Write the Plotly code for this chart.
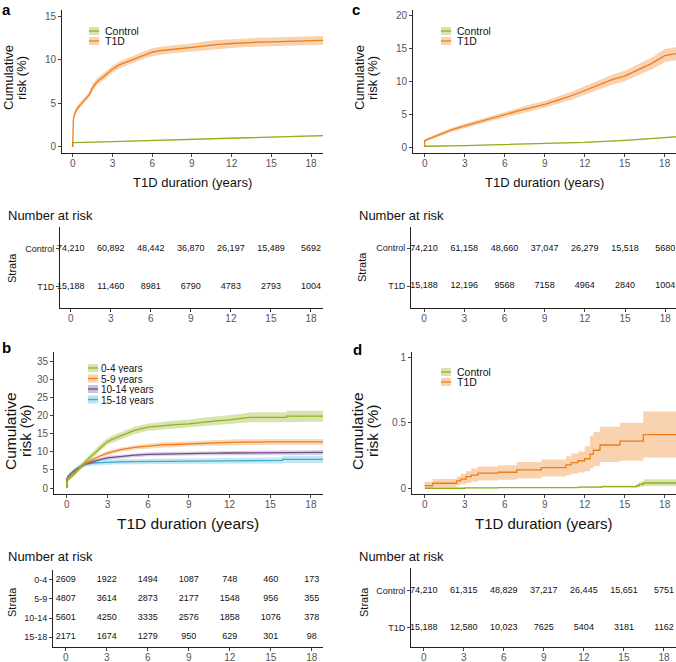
import plotly.graph_objects as go

# ---------------- DATA ----------------
# Panel a
a_t1d_t = [0, 0, 0.05, 0.15, 0.3, 0.5, 0.75, 1.0, 1.25, 1.5, 1.85, 2.2, 2.6, 3.0, 3.5, 4.0, 4.5, 5.0, 5.5, 6.0,
           6.5, 7.0, 8.0, 9.0, 10.0, 11.0, 12.0, 13.0, 14.0, 15.0, 16.0, 17.0, 18.0, 18.9]
a_t1d = [0, 2.5, 3.2, 3.8, 4.3, 4.7, 5.1, 5.5, 6.0, 6.8, 7.5, 7.9, 8.4, 8.9, 9.4, 9.7, 10.0, 10.3, 10.6, 10.85,
         11.0, 11.1, 11.25, 11.4, 11.6, 11.75, 11.85, 11.95, 12.0, 12.05, 12.1, 12.15, 12.2, 12.2]
a_t1d_lo = [0, 2.2, 2.9, 3.5, 4.0, 4.4, 4.8, 5.2, 5.7, 6.4, 7.1, 7.5, 8.0, 8.5, 9.0, 9.3, 9.6, 9.9, 10.2, 10.4,
            10.55, 10.65, 10.8, 10.95, 11.1, 11.25, 11.35, 11.45, 11.5, 11.55, 11.6, 11.65, 11.7, 11.7]
a_t1d_hi = [0, 2.8, 3.5, 4.1, 4.6, 5.0, 5.4, 5.8, 6.3, 7.2, 7.9, 8.3, 8.8, 9.3, 9.8, 10.1, 10.4, 10.7, 11.0, 11.3,
            11.45, 11.55, 11.7, 11.85, 12.1, 12.25, 12.35, 12.45, 12.5, 12.55, 12.6, 12.65, 12.7, 12.7]
a_ctrl_t = [0, 0, 3, 6, 9, 12, 15, 18, 18.9]
a_ctrl = [0, 0.5, 0.62, 0.75, 0.88, 1.0, 1.12, 1.25, 1.3]
a_ctrl_lo = [0, 0.46, 0.58, 0.71, 0.84, 0.95, 1.06, 1.18, 1.23]
a_ctrl_hi = [0, 0.54, 0.66, 0.79, 0.92, 1.05, 1.18, 1.32, 1.37]

# Panel c
c_t1d_t = [0, 0, 0.5, 1, 2, 3, 4, 5, 6, 7, 8, 9, 10, 11, 12, 13, 14, 15, 16, 17, 18, 18.85]
c_t1d = [0, 1.0, 1.4, 1.8, 2.6, 3.2, 3.8, 4.4, 4.9, 5.5, 6.0, 6.5, 7.15, 7.8, 8.6, 9.45, 10.2, 10.8, 11.7, 12.7, 13.9, 14.2]
c_t1d_lo = [0, 0.8, 1.15, 1.5, 2.3, 2.85, 3.45, 4.0, 4.5, 5.05, 5.5, 6.0, 6.6, 7.2, 7.95, 8.75, 9.45, 10.0, 10.85, 11.8, 12.9, 13.2]
c_t1d_hi = [0, 1.2, 1.65, 2.1, 2.9, 3.55, 4.15, 4.8, 5.3, 5.95, 6.5, 7.0, 7.7, 8.4, 9.25, 10.15, 10.95, 11.6, 12.55, 13.6, 14.9, 15.2]
c_ctrl_t = [0, 0, 3, 6, 9, 12, 15, 18, 18.85]
c_ctrl = [0, 0.12, 0.22, 0.35, 0.5, 0.7, 1.0, 1.45, 1.55]
c_ctrl_lo = [0, 0.09, 0.18, 0.3, 0.44, 0.63, 0.92, 1.35, 1.44]
c_ctrl_hi = [0, 0.15, 0.26, 0.4, 0.56, 0.77, 1.08, 1.55, 1.66]

# Panel b (age at onset groups)
b_t = [0, 0, 0.1, 0.3, 0.6, 1.0, 1.3, 1.7, 2.0, 2.5, 3.0, 3.5, 4.0, 5.0, 6.0, 7.0, 8.0, 9.0, 10.0, 11.0,
       12.0, 13.0, 13.5, 15.0, 15.9, 15.9, 16.2, 16.2, 17.0, 18.9]
b_g04 = [0, 1.5, 2.3, 3.0, 3.9, 5.6, 7.0, 8.4, 9.4, 11.3, 12.8, 13.7, 14.4, 15.9, 16.8, 17.2, 17.5, 17.7, 18.2, 18.5,
         18.8, 19.2, 19.5, 19.5, 19.5, 19.5, 19.5, 19.8, 19.8, 19.8]
b_g04_lo = [0, 1.1, 1.8, 2.5, 3.3, 4.9, 6.3, 7.6, 8.5, 10.4, 11.9, 12.7, 13.4, 14.9, 15.8, 16.1, 16.4, 16.6, 17.0, 17.3,
            17.6, 17.9, 18.1, 18.1, 18.1, 18.1, 18.1, 18.3, 18.3, 18.3]
b_g04_hi = [0, 1.9, 2.8, 3.5, 4.5, 6.3, 7.7, 9.2, 10.3, 12.2, 13.7, 14.7, 15.4, 16.9, 17.8, 18.3, 18.6, 18.8, 19.4, 19.7,
            20.0, 20.5, 20.9, 20.9, 20.9, 20.9, 20.9, 21.3, 21.3, 21.3]
b_g59 = [0, 2.0, 2.8, 3.6, 4.5, 5.7, 6.6, 7.4, 8.0, 8.9, 9.6, 10.1, 10.6, 11.2, 11.6, 11.9, 12.0, 12.2, 12.35, 12.5,
         12.6, 12.65, 12.7, 12.7, 12.7, 12.7, 12.7, 12.7, 12.7, 12.7]
b_g59_lo = [0, 1.7, 2.5, 3.2, 4.1, 5.2, 6.1, 6.9, 7.5, 8.4, 9.0, 9.5, 10.0, 10.6, 10.9, 11.2, 11.3, 11.5, 11.6, 11.7,
            11.8, 11.85, 11.9, 11.9, 11.9, 11.9, 11.9, 11.9, 11.9, 11.9]
b_g59_hi = [0, 2.3, 3.1, 4.0, 4.9, 6.2, 7.1, 7.9, 8.5, 9.4, 10.2, 10.7, 11.2, 11.8, 12.3, 12.6, 12.7, 12.9, 13.1, 13.3,
            13.4, 13.45, 13.5, 13.5, 13.5, 13.5, 13.5, 13.5, 13.5, 13.5]
b_g1014 = [0, 2.3, 3.1, 3.9, 4.8, 5.8, 6.5, 7.0, 7.4, 7.9, 8.3, 8.5, 8.75, 9.05, 9.3, 9.4, 9.45, 9.5, 9.55, 9.6,
           9.65, 9.7, 9.7, 9.8, 9.8, 9.8, 9.8, 9.8, 9.8, 9.8]
b_g1014_lo = [0, 2.0, 2.8, 3.6, 4.4, 5.4, 6.1, 6.6, 7.0, 7.5, 7.8, 8.0, 8.25, 8.5, 8.75, 8.85, 8.9, 8.95, 9.0, 9.0,
              9.05, 9.1, 9.1, 9.15, 9.15, 9.15, 9.15, 9.1, 9.1, 9.1]
b_g1014_hi = [0, 2.6, 3.4, 4.2, 5.2, 6.2, 6.9, 7.4, 7.8, 8.3, 8.8, 9.0, 9.25, 9.6, 9.85, 9.95, 10.0, 10.05, 10.1, 10.2,
              10.25, 10.3, 10.3, 10.45, 10.45, 10.45, 10.45, 10.5, 10.5, 10.5]
b_g1518 = [0, 2.5, 3.3, 4.1, 5.0, 6.0, 6.5, 6.8, 6.9, 7.0, 7.1, 7.15, 7.2, 7.25, 7.3, 7.35, 7.4, 7.45, 7.5, 7.55,
           7.6, 7.6, 7.6, 7.6, 7.6, 7.9, 7.9, 7.9, 7.9, 7.9]
b_g1518_lo = [0, 2.1, 2.9, 3.6, 4.4, 5.3, 5.8, 6.1, 6.2, 6.3, 6.4, 6.45, 6.5, 6.5, 6.55, 6.6, 6.6, 6.65, 6.7, 6.7,
              6.75, 6.75, 6.75, 6.75, 6.75, 6.9, 6.9, 6.9, 6.9, 6.9]
b_g1518_hi = [0, 2.9, 3.7, 4.6, 5.6, 6.7, 7.2, 7.5, 7.6, 7.7, 7.8, 7.85, 7.9, 8.0, 8.05, 8.1, 8.2, 8.25, 8.3, 8.4,
              8.45, 8.45, 8.45, 8.45, 8.45, 8.9, 8.9, 8.9, 8.9, 8.9]

# Panel d (step curves)
d_t1d_t = [0, 0.6, 2.4, 2.7, 3.1, 3.5, 4.0, 5.5, 6.9, 8.75, 10.6, 11.0, 11.5, 12.0, 12.4, 12.65, 13.15, 14.65, 16.4, 18.9]
d_t1d = [0.02, 0.038, 0.056, 0.07, 0.089, 0.10, 0.115, 0.122, 0.14, 0.158, 0.178, 0.196, 0.21, 0.225, 0.26, 0.29,
         0.33, 0.36, 0.41, 0.41]
d_t1d_lo = [0.0, 0.01, 0.02, 0.03, 0.04, 0.05, 0.06, 0.065, 0.075, 0.09, 0.1, 0.11, 0.12, 0.13, 0.15, 0.17, 0.2,
            0.21, 0.235, 0.235]
d_t1d_hi = [0.05, 0.07, 0.09, 0.11, 0.13, 0.15, 0.165, 0.175, 0.2, 0.22, 0.245, 0.265, 0.28, 0.32, 0.40, 0.43, 0.47,
            0.50, 0.585, 0.585]
d_ctrl_t = [0, 3.0, 5.5, 9.0, 11.5, 13.3, 15.9, 16.1, 16.4, 18.9]
d_ctrl = [0.0, 0.002, 0.004, 0.005, 0.008, 0.012, 0.02, 0.03, 0.04, 0.04]
d_ctrl_lo = [0.0, 0.0, 0.001, 0.002, 0.003, 0.005, 0.008, 0.012, 0.015, 0.015]
d_ctrl_hi = [0.001, 0.005, 0.008, 0.01, 0.014, 0.02, 0.035, 0.05, 0.068, 0.068]

# Risk tables
risk_times = [0, 3, 6, 9, 12, 15, 18]
two_groups = ["Control", "T1D"]
age_groups = ["0-4", "5-9", "10-14", "15-18"]
age_legend = ["0-4 years", "5-9 years", "10-14 years", "15-18 years"]
risk_a = [["74,210", "60,892", "48,442", "36,870", "26,197", "15,489", "5692"],
          ["15,188", "11,460", "8981", "6790", "4783", "2793", "1004"]]
risk_c = [["74,210", "61,158", "48,660", "37,047", "26,279", "15,518", "5680"],
          ["15,188", "12,196", "9568", "7158", "4964", "2840", "1004"]]
risk_b = [["2609", "1922", "1494", "1087", "748", "460", "173"],
          ["4807", "3614", "2873", "2177", "1548", "956", "355"],
          ["5601", "4250", "3335", "2576", "1858", "1076", "378"],
          ["2171", "1674", "1279", "950", "629", "301", "98"]]
risk_d = [["74,210", "61,315", "48,829", "37,217", "26,445", "15,651", "5751"],
          ["15,188", "12,580", "10,023", "7625", "5404", "3181", "1162"]]

# ---------------- STYLE ----------------
W, H = 676, 662
FONT = "Liberation Sans, Arial, sans-serif"
GREEN = "#8fb21c"
ORANGE = "#ef7d1a"
PURPLE = "#6d4c8f"
CYAN = "#3aaed0"


def rgba(hexc, a):
    h = hexc.lstrip("#")
    return "rgba(%d,%d,%d,%.2f)" % (int(h[0:2], 16), int(h[2:4], 16), int(h[4:6], 16), a)


def px(x):
    return x / W


def py(y):
    return 1 - y / H


fig = go.Figure()


def add_series(t, y, lo, hi, color, ax, shape="linear", alpha=0.35):
    xa, ya = ("x", "y") if ax == 1 else ("x%d" % ax, "y%d" % ax)
    fig.add_trace(go.Scatter(x=t, y=lo, mode="lines", line=dict(width=0, shape=shape, color=color),
                             xaxis=xa, yaxis=ya, showlegend=False, hoverinfo="skip"))
    fig.add_trace(go.Scatter(x=t, y=hi, mode="lines", line=dict(width=0, shape=shape, color=color),
                             fill="tonexty", fillcolor=rgba(color, alpha),
                             xaxis=xa, yaxis=ya, showlegend=False, hoverinfo="skip"))
    fig.add_trace(go.Scatter(x=t, y=y, mode="lines", line=dict(width=1.3, shape=shape, color=color),
                             xaxis=xa, yaxis=ya, showlegend=False))


# Panel a -> axis 1, c -> 2, b -> 3, d -> 4
add_series(a_ctrl_t, a_ctrl, a_ctrl_lo, a_ctrl_hi, GREEN, 1)
add_series(a_t1d_t, a_t1d, a_t1d_lo, a_t1d_hi, ORANGE, 1)
add_series(c_ctrl_t, c_ctrl, c_ctrl_lo, c_ctrl_hi, GREEN, 2)
add_series(c_t1d_t, c_t1d, c_t1d_lo, c_t1d_hi, ORANGE, 2)
add_series(b_t, b_g1518, b_g1518_lo, b_g1518_hi, CYAN, 3, alpha=0.3)
add_series(b_t, b_g1014, b_g1014_lo, b_g1014_hi, PURPLE, 3, alpha=0.25)
add_series(b_t, b_g59, b_g59_lo, b_g59_hi, ORANGE, 3, alpha=0.3)
add_series(b_t, b_g04, b_g04_lo, b_g04_hi, GREEN, 3, alpha=0.35)
add_series(d_ctrl_t, d_ctrl, d_ctrl_lo, d_ctrl_hi, GREEN, 4, shape="hv")
add_series(d_t1d_t, d_t1d, d_t1d_lo, d_t1d_hi, ORANGE, 4, shape="hv")


# Risk tables: axis 5 (a), 6 (c), 7 (b), 8 (d)
def add_table(rows, labels, ax):
    n = len(labels)
    for i, row in enumerate(rows):
        fig.add_trace(go.Scatter(x=risk_times, y=[n - i] * len(risk_times), text=row, mode="text",
                                 textfont=dict(size=9, color="#111", family=FONT),
                                 xaxis="x%d" % ax, yaxis="y%d" % ax, showlegend=False, cliponaxis=False,
                                 hoverinfo="skip"))


add_table(risk_a, two_groups, 5)
add_table(risk_c, two_groups, 6)
add_table(risk_b, age_groups, 7)
add_table(risk_d, two_groups, 8)

# ---------------- AXES ----------------
axis_common = dict(showline=True, linecolor="#222", linewidth=1, ticks="outside", ticklen=3,
                   tickcolor="#444", tickwidth=1, showgrid=False, zeroline=False, automargin=False,
                   tickfont=dict(size=10, color="#555", family=FONT), fixedrange=True)
xaxis_extra = dict(ticklabelstandoff=-2)

panels = [
    # (axis idx, x dom px, y dom px, x range, y range, y ticks)
    (1, (62, 323), (10, 153), (-0.81, 18.9), (-0.69, 15.69), [0, 5, 10, 15], None),
    (2, (413, 676), (10, 153), (-0.88, 18.85), (-0.91, 20.85), [0, 5, 10, 15, 20], None),
    (3, (54, 323), (352, 494), (-0.94, 18.89), (-1.65, 37.5), [0, 5, 10, 15, 20, 25, 30, 35], None),
    (4, (412, 676), (352, 494), (-0.95, 18.85), (-0.044, 1.04), [0, 0.5, 1], ["0", "0.5", "1"]),
]
layout_axes = {}
for idx, xd, yd, xr, yr, yt, ytt in panels:
    xn = "xaxis" if idx == 1 else "xaxis%d" % idx
    yn = "yaxis" if idx == 1 else "yaxis%d" % idx
    anchor_x = "x" if idx == 1 else "x%d" % idx
    anchor_y = "y" if idx == 1 else "y%d" % idx
    layout_axes[xn] = dict(axis_common, domain=[px(xd[0]), px(xd[1])], range=list(xr),
                           tickvals=risk_times, anchor=anchor_y, **xaxis_extra)
    yd_ = dict(axis_common, domain=[py(yd[1]), py(yd[0])], range=list(yr), tickvals=yt, anchor=anchor_x)
    if ytt:
        yd_["ticktext"] = ytt
    layout_axes[yn] = yd_

tables = [
    (5, (60, 323), (227, 308), (-0.8, 18.9), (0.435, 2.58), two_groups),
    (6, (411, 676), (227, 308), (-0.97, 18.8), (0.42, 2.565), two_groups),
    (7, (53, 323), (570, 647), (-0.93, 18.82), (0.48, 4.52), age_groups),
    (8, (411, 676), (568, 647), (-0.95, 18.9), (0.47, 2.61), two_groups),
]
for idx, xd, yd, xr, yr, labels in tables:
    n = len(labels)
    layout_axes["xaxis%d" % idx] = dict(axis_common, domain=[px(xd[0]), px(xd[1])], range=list(xr),
                                        tickvals=risk_times, anchor="y%d" % idx, **xaxis_extra)
    layout_axes["yaxis%d" % idx] = dict(axis_common, domain=[py(yd[1]), py(yd[0])], range=list(yr),
                                        tickvals=list(range(n, 0, -1)), ticktext=labels, anchor="x%d" % idx,
                                        tickfont=dict(size=9, color="#222", family=FONT))

# ---------------- ANNOTATIONS ----------------
ann = []
shapes = []


def text(x, y, s, size, color="#111", angle=0, xanchor="center", yanchor="middle", bold=False, height=None):
    d = dict(x=px(x), y=py(y), xref="paper", yref="paper", text=("<b>%s</b>" % s) if bold else s,
             showarrow=False, textangle=angle, xanchor=xanchor, yanchor=yanchor, borderpad=0,
             font=dict(size=size, color=color, family=FONT))
    if height:
        d["height"] = height
    ann.append(d)


# panel letters
text(6, 0, "a", 15, "#000", yanchor="top", bold=True)
text(356, 0, "c", 15, "#000", yanchor="top", bold=True)
text(6, 338, "b", 15, "#000", yanchor="top", bold=True)
text(357, 340, "d", 15, "#000", yanchor="top", bold=True)

# axis titles (two separate lines for tight line spacing)
ytitles = [  # (x line1, x line2, y center, size)
    (8, 21, 78, 13),
    (359, 372, 78, 13),
    (10, 25, 431, 15.5),
    (357, 372, 431, 15.5),
]
for x1, x2, yc, sz in ytitles:
    text(x1, yc, "Cumulative", sz, "#111", angle=-90)
    text(x2, yc, "risk (%)", sz, "#111", angle=-90)

xtitles = [(192, 183, 13), (544, 183, 13), (188, 523, 15.5), (544, 523, 15)]
for x, y, sz in xtitles:
    text(x, y, "T1D duration (years)", sz, "#111")

# risk table titles
for (x, y) in [(7, 215), (358, 215), (7, 556), (358, 556)]:
    text(x, y, "Number at risk", 13, "#111", xanchor="left")
for (x, y) in [(12, 268), (362, 267), (12, 602), (364, 602)]:
    text(x, y, "Strata", 11, "#111", angle=-90)


# manual legends
def legend(x_icon, x_text, ys, names, colors, size):
    for yy, nm, col in zip(ys, names, colors):
        shapes.append(dict(type="rect", xref="paper", yref="paper", x0=px(x_icon), x1=px(x_icon + 10),
                           y0=py(yy + 4), y1=py(yy - 4), fillcolor=rgba(col, 0.35), line=dict(width=0)))
        shapes.append(dict(type="line", xref="paper", yref="paper", x0=px(x_icon), x1=px(x_icon + 10),
                           y0=py(yy), y1=py(yy), line=dict(color=col, width=1.3)))
        text(x_text, yy, nm, size, "#111", xanchor="left", height=10)


legend(89, 104, [31, 41], two_groups, [GREEN, ORANGE], 10.5)
legend(441, 456, [31, 41], two_groups, [GREEN, ORANGE], 10.5)
legend(88, 100, [368, 378.5, 389, 399.5], age_legend, [GREEN, ORANGE, PURPLE, CYAN], 10)
legend(441, 456, [372, 382], two_groups, [GREEN, ORANGE], 10.5)

fig.update_layout(width=W, height=H, margin=dict(l=0, r=0, t=0, b=0), plot_bgcolor="white",
                  paper_bgcolor="white", showlegend=False, annotations=ann, shapes=shapes,
                  font=dict(family=FONT), **layout_axes)

fig.write_html("out.html", config={"displayModeBar": False},
               post_script="document.body.style.margin='0';document.body.style.overflow='hidden';")
